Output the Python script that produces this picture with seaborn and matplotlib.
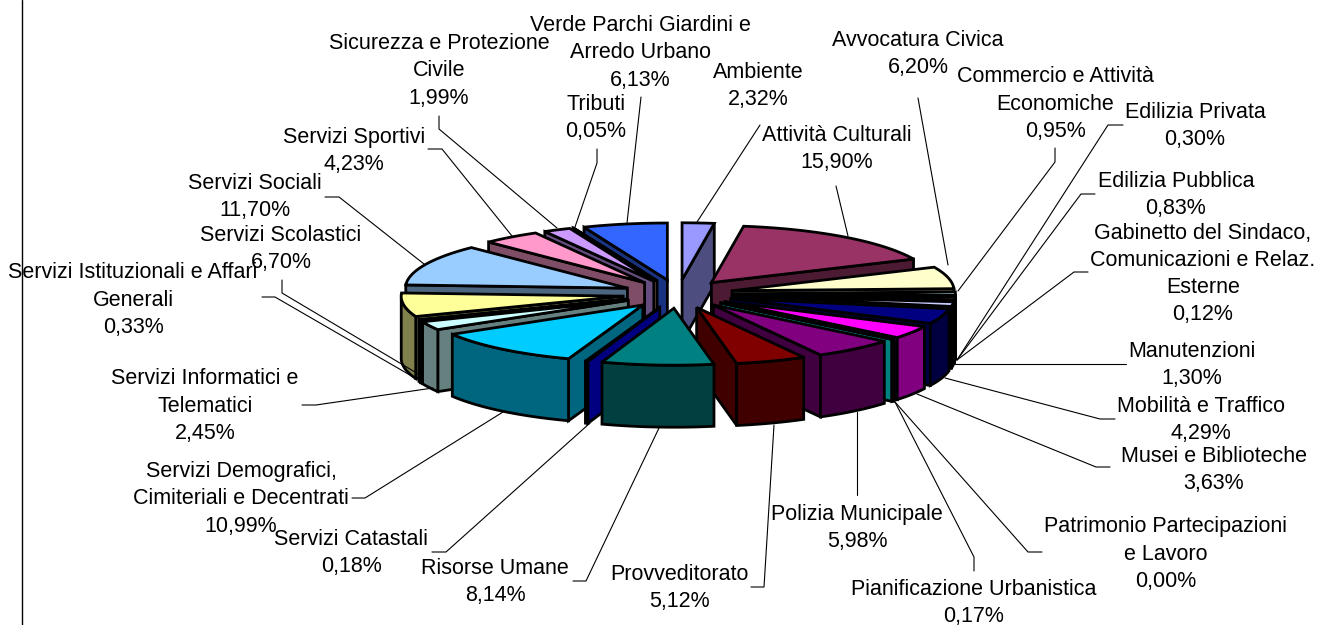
import numpy as np
import pandas as pd
import matplotlib
matplotlib.use("Agg")
import matplotlib.pyplot as plt
import seaborn as sns

categories = ["Ambiente", "Attività Culturali", "Avvocatura Civica",
              "Commercio e Attività\nEconomiche", "Edilizia Privata", "Edilizia Pubblica",
              "Gabinetto del Sindaco,\nComunicazioni e Relaz.\nEsterne", "Manutenzioni",
              "Mobilità e Traffico", "Musei e Biblioteche",
              "Patrimonio Partecipazioni\ne Lavoro", "Pianificazione Urbanistica",
              "Polizia Municipale", "Provveditorato", "Risorse Umane", "Servizi Catastali",
              "Servizi Demografici,\nCimiteriali e Decentrati", "Servizi Informatici e\nTelematici",
              "Servizi Istituzionali e Affari\nGenerali", "Servizi Scolastici", "Servizi Sociali",
              "Servizi Sportivi", "Sicurezza e Protezione\nCivile", "Tributi",
              "Verde Parchi Giardini e\nArredo Urbano"]
values = [2.32, 15.90, 6.20, 0.95, 0.30, 0.83, 0.12, 1.30, 4.29, 3.63, 0.00, 0.17, 5.98,
          5.12, 8.14, 0.18, 10.99, 2.45, 0.33, 6.70, 11.70, 4.23, 1.99, 0.05, 6.13]
colors = ["#9999FF", "#993366", "#FFFFCC", "#CCFFFF", "#660066", "#FF8080", "#0066CC", "#CCCCFF",
          "#000080", "#FF00FF", "#FFFF00", "#00FFFF", "#800080", "#800000", "#008080", "#0000FF",
          "#00CCFF", "#CCFFFF", "#CCFFCC", "#FFFF99", "#99CCFF", "#FF99CC", "#CC99FF", "#FFCC99",
          "#3366FF"]

# label block centres (pixels)
label_x = [758, 837, 918, 1055, 1195, 1176, 1203, 1192, 1201, 1214, 1166, 974, 857,
           679, 495, 351, 241, 205, 133, 281, 255, 354, 439, 596, 640]
label_y = [86, 149, 54, 104, 126, 195, 274, 365, 420, 470, 554, 603, 528,
           588, 582, 553, 499, 406, 300, 249, 197, 151, 71, 118, 53]

# leader polylines (pixels), same order as categories
leaders = [
    [(760, 125), (697, 222)], [(836, 186), (848, 236)], [(918, 98), (948, 265)],
    [(1055, 148), (1055, 162), (958, 291)], [(1123, 125), (1108, 125), (957, 360)],
    [(1095, 194), (1081, 194), (957, 360)], [(1088, 272), (1074, 272), (957, 360)],
    [(1126, 364), (955, 364)], [(1115, 419), (1100, 419), (945, 378)],
    [(1110, 467), (1096, 467), (917, 394)], [(1042, 552), (1028, 552), (895, 402)],
    [(974, 571), (974, 557), (895, 402)], [(857, 495), (857, 412)],
    [(751, 587), (764, 587), (774, 425)], [(573, 581), (586, 581), (659, 428)],
    [(432, 552), (446, 552), (590, 423)], [(352, 498), (365, 498), (503, 412)],
    [(302, 405), (316, 405), (433, 388)], [(262, 297), (275, 297), (415, 378)],
    [(282, 280), (282, 293), (420, 375)], [(325, 197), (339, 197), (424, 264)],
    [(428, 149), (442, 149), (512, 236)], [(439, 116), (439, 129), (557, 228)],
    [(597, 149), (597, 163), (575, 227)], [(641, 97), (627, 223)],
]

CX, CY, RX, RY, DEPTH, EXPLODE = 678, 294, 222, 57, 62, 0.25
LW = 2.0

sns.set_theme(style="white")
plt.rcParams["font.family"] = ["Liberation Sans", "DejaVu Sans"]
palette = sns.color_palette(colors)

fig, ax = plt.subplots(figsize=(13.17, 6.25), dpi=100)
ax.set_position([0, 0, 1, 1])


def pt(theta, r=1.0):
    return r * RX * np.sin(theta), -r * RY * np.cos(theta)


fractions = np.array(values) / sum(values)
edges = np.concatenate([[0], np.cumsum(fractions)]) * 2 * np.pi
slices = []
for i in range(len(values)):
    t0, t1 = edges[i], edges[i + 1]
    mid = (t0 + t1) / 2
    ox, oy = pt(mid, EXPLODE)
    slices.append((np.cos(mid), i, t0, t1, CX + ox, CY + oy))

# back to front
for _, i, t0, t1, ax0, ay0 in sorted(slices, key=lambda s: -s[0]):
    top = palette[i]
    side = tuple(c * 0.5 for c in top)
    style = dict(edgecolor="black", linewidth=LW, joinstyle="miter")
    # radial cut face
    for t in (t0, t1):
        show = (t == t0 and np.sin(t0) < 0) or (t == t1 and np.sin(t1) > 0)
        if show:
            ex, ey = pt(t)
            xs = [ax0, ax0 + ex, ax0 + ex, ax0]
            ys = [ay0, ay0 + ey, ay0 + ey + DEPTH, ay0 + DEPTH]
            ax.fill(xs, ys, facecolor=side, **style)
    # outer wall
    n = max(int((t1 - t0) * 40), 2)
    arc = np.linspace(t0, t1, n)
    front = arc[np.cos(arc) < 0]
    if front.size >= 2:
        wx, wy = pt(front)
        xs = np.concatenate([ax0 + wx, (ax0 + wx)[::-1]])
        ys = np.concatenate([ay0 + wy, (ay0 + wy + DEPTH)[::-1]])
        ax.fill(xs, ys, facecolor=side, **style)
    # top face
    wx, wy = pt(arc)
    ax.fill(np.r_[ax0, ax0 + wx], np.r_[ay0, ay0 + wy], facecolor=top, **style)

rows = [(x, y, k) for k, line in enumerate(leaders) for x, y in line]
df = pd.DataFrame(rows, columns=["x", "y", "unit"])
sns.lineplot(data=df, x="x", y="y", units="unit", estimator=None, sort=False,
             color="black", linewidth=0.8, legend=False, ax=ax, zorder=1)

for name, v, x, y in zip(categories, values, label_x, label_y):
    pct = f"{v:.2f}".replace(".", ",") + "%"
    ax.text(x, y, f"{name}\n{pct}", ha="center", va="center", ma="center",
            fontsize=15.5, color="black", linespacing=1.38, zorder=5)

ax.plot([22, 22], [0, 625], color="black", linewidth=1.0, zorder=6)

ax.set_xlim(0, 1317)
ax.set_ylim(625, 0)
ax.axis("off")
fig.savefig("out.png", dpi=100)
